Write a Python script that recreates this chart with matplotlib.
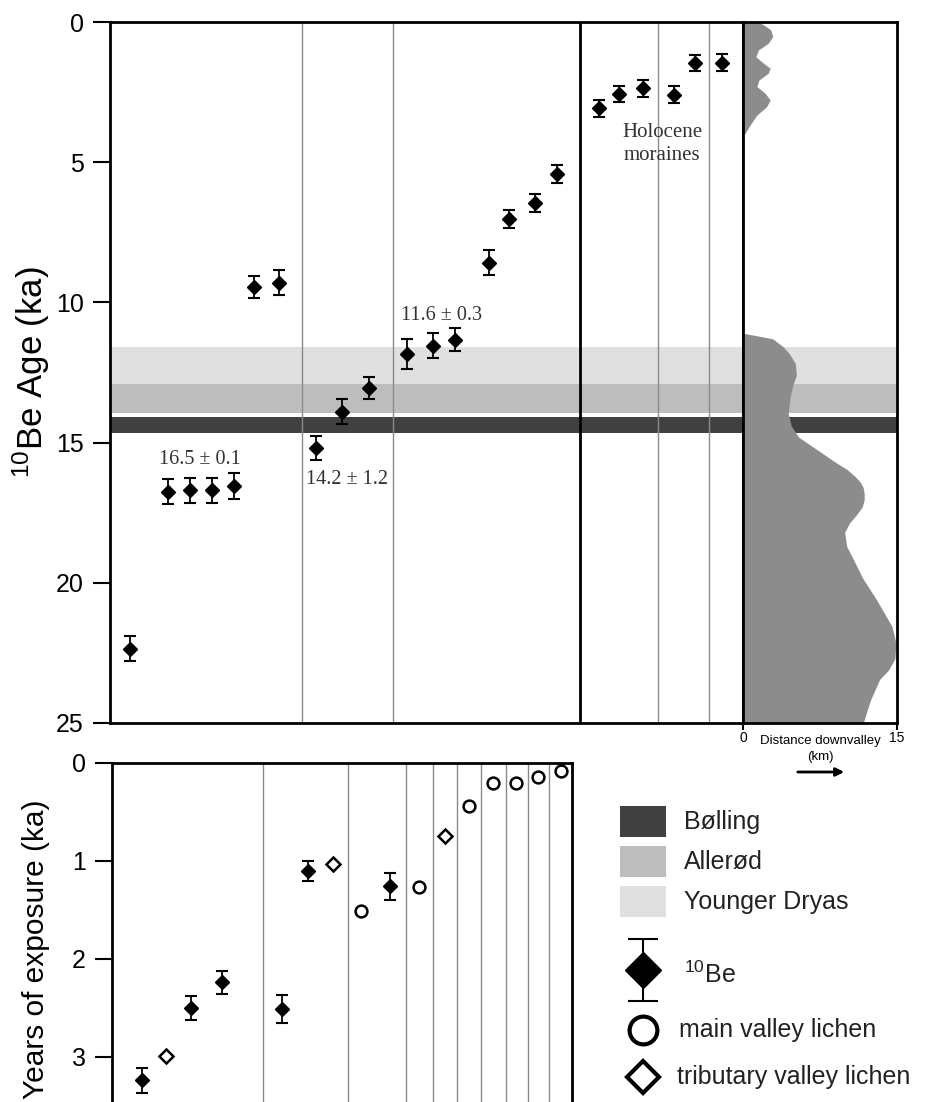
import numpy as np
import matplotlib.pyplot as plt
from matplotlib.patches import Rectangle, FancyArrowPatch

plt.rcParams['font.family'] = ['Liberation Sans', 'DejaVu Sans']

# --- top panel: 10Be ages (ka) along the transect (position 0-100) ---
be_top_x = [3.2, 9.2, 12.6, 16.1, 19.6, 22.7, 26.7, 32.5, 36.7, 40.9, 46.9, 51.0,
            54.5, 59.9, 63.0, 67.1, 70.6, 77.3, 80.4, 84.2, 89.1, 92.4, 96.7]
be_top_age = [22.35, 16.75, 16.7, 16.7, 16.55, 9.45, 9.3, 15.2, 13.9, 13.05, 11.83, 11.55,
              11.33, 8.58, 7.03, 6.44, 5.42, 3.08, 2.58, 2.37, 2.6, 1.47, 1.45]
be_top_err = [0.45, 0.45, 0.45, 0.45, 0.45, 0.4, 0.44, 0.43, 0.44, 0.4, 0.53, 0.45,
              0.4, 0.46, 0.33, 0.32, 0.33, 0.3, 0.28, 0.3, 0.3, 0.28, 0.3]
top_thin_lines = [30.3, 44.7, 86.6, 94.6]
top_thick_lines = [74.2]

# climate intervals (ka)
band_names = ['Bølling', 'Allerød', 'Younger Dryas']
band_start = [14.1, 12.9, 11.6]
band_end = [14.65, 13.95, 12.9]
band_colors = ['#404040', '#bdbdbd', '#e0e0e0']

# distance downvalley profile (km vs ka)
prof1_age = [0, 0.1, 0.28, 0.52, 0.76, 1.0, 1.24, 1.47, 1.65, 1.83, 2.07, 2.3, 2.54,
             2.78, 3.02, 3.32, 3.67, 4.09]
prof1_km = [1.5, 2.0, 2.7, 2.9, 2.45, 1.5, 1.25, 2.0, 2.65, 2.45, 1.55, 1.35, 2.15,
            2.65, 2.3, 1.35, 0.7, 0]
prof2_age = [11.1, 11.2, 11.3, 11.58, 11.82, 12.18, 12.6, 12.9, 13.35, 13.95,
             14.4, 14.8, 15.1, 15.4, 15.7, 15.95, 16.2, 16.4, 16.6, 16.8,
             17.05, 17.3, 17.6, 17.85, 18.2, 18.7, 19.2, 19.8, 20.6, 21.55,
             22.15, 22.7, 23.1, 23.45, 24.2, 25]
prof2_km = [0, 1.5, 2.9, 3.9, 4.5, 5.1, 5.2, 4.9, 4.6, 4.4,
            4.7, 5.4, 6.6, 7.8, 9.0, 10.1, 10.9, 11.4, 11.7, 11.8,
            11.8, 11.6, 11.0, 10.4, 9.9, 10.1, 10.8, 11.6, 13.0, 14.5,
            14.9, 14.8, 14.2, 13.3, 12.4, 11.7]

# --- bottom panel: years of exposure (ka) ---
be_bot_x = [6.5, 17.2, 23.9, 37.0, 42.6, 60.4]
be_bot_age = [3.24, 2.5, 2.24, 2.51, 1.1, 1.26]
be_bot_err = [0.13, 0.12, 0.12, 0.14, 0.1, 0.14]
trib_x = [11.7, 48.0, 72.4]
trib_age = [2.99, 1.03, 0.75]
main_x = [54.1, 66.7, 77.6, 82.8, 87.8, 92.6, 97.6]
main_age = [1.51, 1.27, 0.44, 0.2, 0.2, 0.14, 0.08]
bot_lines = [32.8, 51.3, 63.9, 69.8, 75.0, 80.2, 85.7, 90.4, 95.0]

W, H = 926, 1102
fig = plt.figure(figsize=(W / 100, H / 100), dpi=100)


def px_axes(x0, y0, x1, y1):
    return fig.add_axes([x0 / W, 1 - y1 / H, (x1 - x0) / W, (y1 - y0) / H])


ax = px_axes(110, 22, 743, 723)
axd = px_axes(743, 22, 897, 723)
axb = px_axes(112, 763, 572, 1102)
axl = px_axes(590, 780, 926, 1102)

serif = 'Liberation Serif'

# top main panel
for s, e, c in zip(band_start, band_end, band_colors):
    ax.axhspan(s, e, color=c, lw=0, zorder=0)
    axd.axhspan(s, e, color=c, lw=0, zorder=0)
for x in top_thin_lines:
    ax.axvline(x, color='#8a8a8a', lw=1, zorder=1)
for x in top_thick_lines:
    ax.axvline(x, color='black', lw=2, zorder=1)
ax.errorbar(be_top_x, be_top_age, yerr=be_top_err, fmt='D', color='black', ms=7,
            capsize=4.5, elinewidth=1.3, capthick=1.5, zorder=3)
ax.set_xlim(0, 100)
ax.set_ylim(25, 0)
ax.set_xticks([])
ax.set_yticks([0, 5, 10, 15, 20, 25])
ax.tick_params(axis='y', length=12, width=1.5, pad=7, labelsize=18)
ax.set_ylabel(r'$\mathregular{^{10}}$Be Age (ka)', fontsize=25)
ax.yaxis.set_label_coords(-0.092, 0.5)
for sp in ax.spines.values():
    sp.set_linewidth(2)

ax.text(14.2, 15.6, '16.5 ± 0.1', family=serif, fontsize=14.5, color='#333333',
        ha='center', va='center')
ax.text(37.4, 16.33, '14.2 ± 1.2', family=serif, fontsize=14.5, color='#333333',
        ha='center', va='center')
ax.text(52.4, 10.45, '11.6 ± 0.3', family=serif, fontsize=14.5, color='#333333',
        ha='center', va='center')
ax.text(87.2, 4.35, 'Holocene\nmoraines', family=serif, fontsize=15, color='#333333',
        ha='center', va='center', linespacing=1.3)

# distance downvalley panel
axd.fill_betweenx(prof1_age, 0, prof1_km, color='#8c8c8c', lw=0, zorder=2)
axd.fill_betweenx(prof2_age, 0, prof2_km, color='#8c8c8c', lw=0, zorder=2)
axd.set_xlim(0, 15)
axd.set_ylim(25, 0)
axd.set_yticks([])
axd.set_xticks([0, 15])
axd.tick_params(axis='x', length=5, width=1.5, pad=1, labelsize=10)
for sp in axd.spines.values():
    sp.set_linewidth(2)
fig.text(820 / W, 1 - 741 / H, 'Distance downvalley', fontsize=9.5, ha='center', va='center')
fig.text(820 / W, 1 - 757 / H, '(km)', fontsize=9.5, ha='center', va='center')
fig.add_artist(FancyArrowPatch(
    (795 / W, 1 - 772 / H), (847 / W, 1 - 772 / H), transform=fig.transFigure,
    arrowstyle='-|>', mutation_scale=12, lw=2, color='black'))

# bottom panel
for x in bot_lines:
    axb.axvline(x, color='#8a8a8a', lw=1, zorder=1)
axb.errorbar(be_bot_x, be_bot_age, yerr=be_bot_err, fmt='D', color='black', ms=7,
             capsize=4.5, elinewidth=1.3, capthick=1.5, zorder=3)
axb.plot(trib_x, trib_age, 'D', mfc='white', mec='black', mew=1.8, ms=7, ls='none', zorder=3)
axb.plot(main_x, main_age, 'o', mfc='white', mec='black', mew=1.8, ms=8.5, ls='none', zorder=3)
axb.set_xlim(0, 100)
axb.set_ylim(3.46, 0)
axb.set_xticks([])
axb.set_yticks([0, 1, 2, 3])
axb.tick_params(axis='y', length=12, width=1.5, pad=7, labelsize=18)
axb.set_ylabel('Years of exposure (ka)', fontsize=21.5)
axb.yaxis.set_label_coords(-0.135, 0.45)
for sp in axb.spines.values():
    sp.set_linewidth(2)
axb.spines['bottom'].set_visible(False)

# legend (pixel-like coordinates)
axl.set_xlim(590, 926)
axl.set_ylim(1102, 780)
axl.axis('off')
leg_top = [806, 846, 886]
for name, c, y in zip(band_names, band_colors, leg_top):
    axl.add_patch(Rectangle((620, y), 46, 31, color=c, lw=0))
    axl.text(684, y + 16, name, fontsize=18, color='#222222', va='center')
axl.errorbar([643], [970], yerr=[31], fmt='D', color='black', ms=18.5,
             capsize=10.5, elinewidth=1.5, capthick=1.5)
axl.text(684, 975, r'$\mathregular{^{10}}$Be', fontsize=18, color='#222222', va='center')
axl.plot([643], [1030], 'o', mfc='white', mec='black', mew=3, ms=20)
axl.text(679, 1030, 'main valley lichen', fontsize=18, color='#222222', va='center')
axl.plot([643], [1077], 'D', mfc='white', mec='black', mew=3, ms=16)
axl.text(677, 1077, 'tributary valley lichen', fontsize=18, color='#222222', va='center')

fig.savefig('out.png', dpi=100)
